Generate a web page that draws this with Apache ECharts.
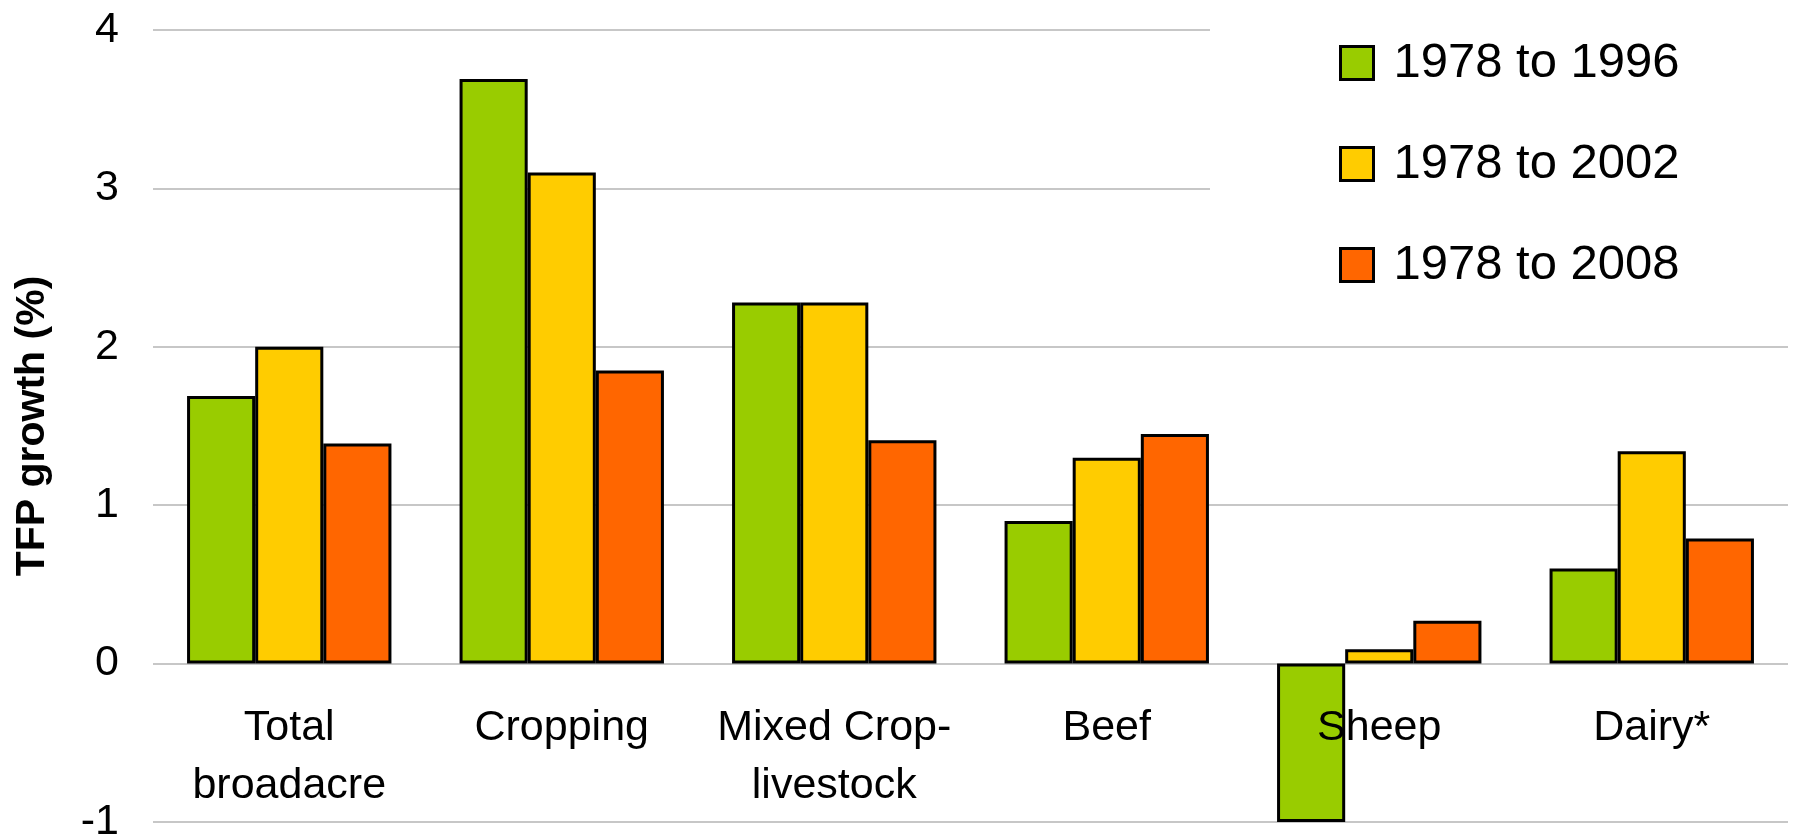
<!DOCTYPE html>
<html>
<head>
<meta charset="utf-8">
<script src="https://cdn.jsdelivr.net/npm/echarts@6/dist/echarts.min.js"></script>
<style>
  html, body { margin: 0; padding: 0; background: #fff; }
  #chart { width: 1795px; height: 835px; }
</style>
</head>
<body>
<div id="chart"></div>
<script>
// Farm sectors and average annual TFP growth (%) over three periods
const categories = ['Total\nbroadacre', 'Cropping', 'Mixed Crop-\nlivestock', 'Beef', 'Sheep', 'Dairy*'];
const periods = ['1978 to 1996', '1978 to 2002', '1978 to 2008'];
const growth1996 = [1.69, 3.69, 2.28, 0.90, -1.00, 0.60];
const growth2002 = [2.00, 3.10, 2.28, 1.30, 0.09, 1.34];
const growth2008 = [1.39, 1.85, 1.41, 1.45, 0.27, 0.79];
const yTicks = { min: -1, max: 4, step: 1 };

const colors = ['#99CC00', '#FFCC00', '#FF6600'];
const FONT = '"Liberation Sans", Arial, Helvetica, sans-serif';
const GRID_GREY = '#b4b4b4';

const W = 1795, H = 835;
const gridBox = { left: 153, right: 7, top: 30, bottom: 13 };
const plotHeight = H - gridBox.top - gridBox.bottom;
// lift the category axis from the bottom of the grid up to the zero line
const zeroLift = plotHeight * (0 - yTicks.min) / (yTicks.max - yTicks.min);

const chart = echarts.init(document.getElementById('chart'), null, { renderer: 'canvas' });

const seriesData = [growth1996, growth2002, growth2008];

chart.setOption({
  animation: false,
  backgroundColor: '#ffffff',
  grid: Object.assign({ containLabel: false, outerBoundsMode: 'none' }, gridBox),
  legend: {
    orient: 'vertical',
    left: 1210,
    top: 0,
    padding: [38, 116, 31, 129],
    backgroundColor: '#ffffff',
    itemWidth: 33,
    itemHeight: 33,
    itemGap: 51,
    icon: 'rect',
    itemStyle: { borderColor: '#000', borderWidth: 3 },
    textStyle: {
      fontFamily: FONT,
      fontSize: 49,
      lineHeight: 50,
      color: '#000',
      padding: [0, 0, 0, 15]
    },
    data: periods
  },
  xAxis: {
    type: 'category',
    data: categories,
    position: 'bottom',
    offset: -zeroLift,
    z: 5,
    axisLine: { show: false, onZero: false },
    axisTick: { show: false },
    axisLabel: {
      interval: 0,
      margin: 36,
      fontFamily: FONT,
      fontSize: 43,
      lineHeight: 58,
      color: '#000'
    }
  },
  yAxis: {
    type: 'value',
    min: yTicks.min,
    max: yTicks.max,
    interval: yTicks.step,
    name: 'TFP growth (%)',
    nameLocation: 'middle',
    nameGap: 100,
    nameTextStyle: {
      fontFamily: FONT,
      fontSize: 41,
      fontWeight: 'bold',
      color: '#000'
    },
    axisLine: { show: false },
    axisTick: { show: false },
    axisLabel: {
      margin: 34,
      fontFamily: FONT,
      fontSize: 43,
      color: '#000'
    },
    splitLine: { lineStyle: { color: GRID_GREY, width: 1.5 } }
  },
  series: periods.map((name, i) => ({
    name: name,
    type: 'bar',
    data: seriesData[i],
    barGap: '0%',
    barCategoryGap: '25%',
    itemStyle: { color: colors[i], borderColor: '#000', borderWidth: 3 }
  }))
});
</script>
</body>
</html>
